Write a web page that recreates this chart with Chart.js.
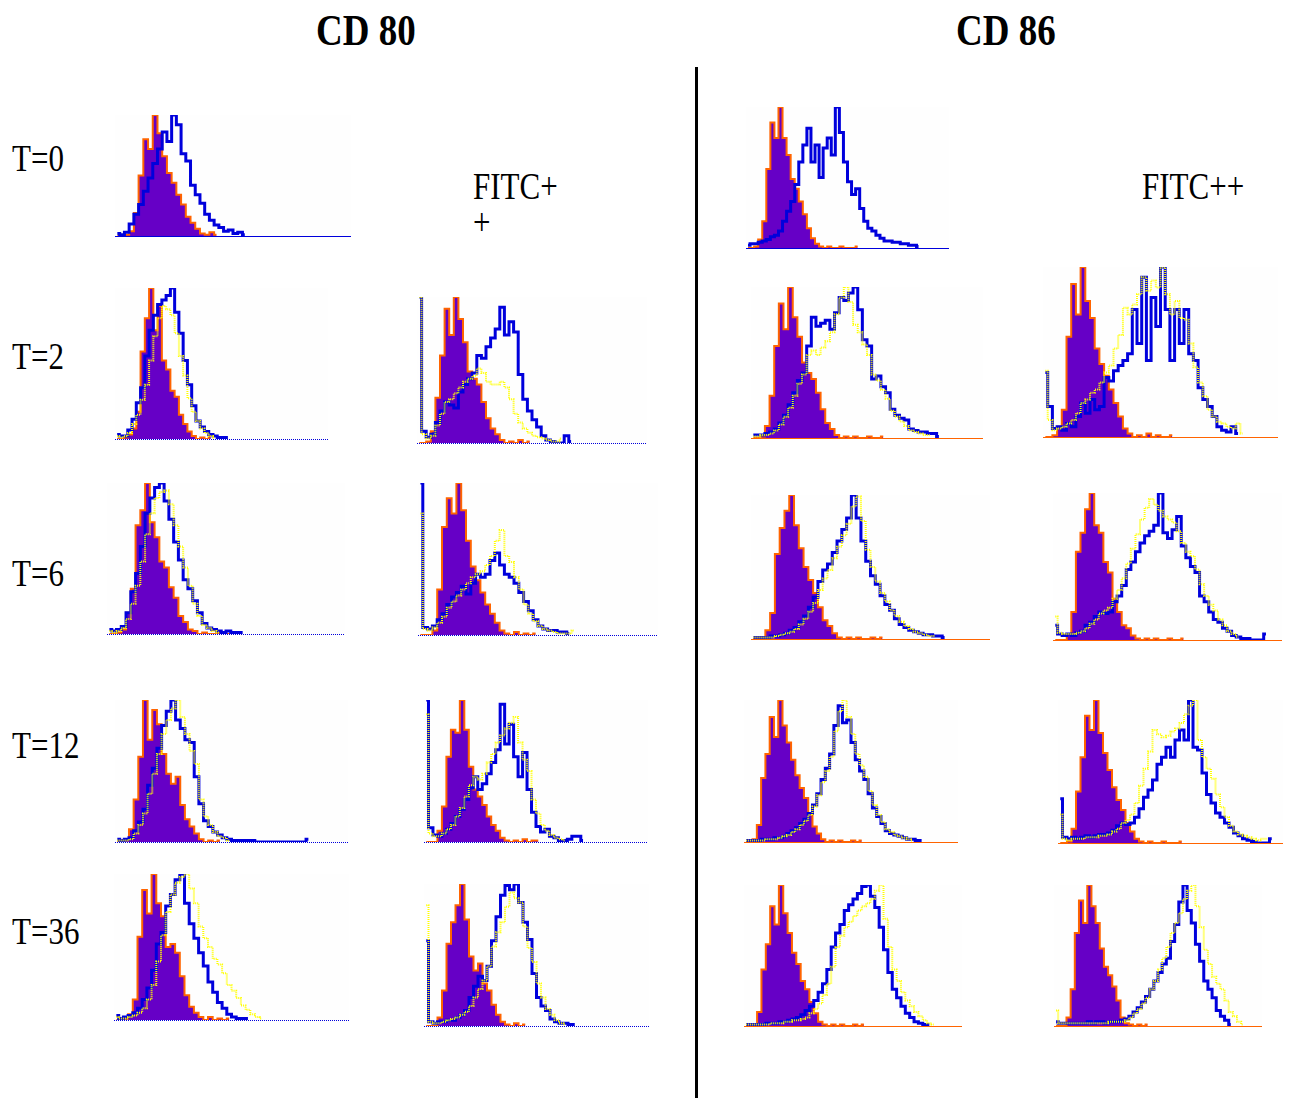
<!DOCTYPE html>
<html>
<head>
<meta charset="utf-8">
<script src="https://cdn.jsdelivr.net/npm/chart.js@4.4.1/dist/chart.umd.min.js"></script>
<style>
  body { margin: 0; background: #fff; }
  #page { position: relative; width: 1294px; height: 1098px; overflow: hidden; }
  .lbl { position: absolute; font-family: "Liberation Serif", "Times New Roman", serif; color: #000; white-space: nowrap; transform-origin: left top; transform: scaleY(1.2); }
  .head { font-weight: bold; font-size: 37px; }
  .row { font-size: 31px; }
  .panel { position: absolute; }
  #divider { position: absolute; left: 695px; top: 67px; width: 3px; height: 1031px; background: #000; }
</style>
</head>
<body>
<div id="page">
  <div class="lbl head" style="left:316px; top:4px;">CD 80</div>
  <div class="lbl head" style="left:956px; top:4px;">CD 86</div>
  <div class="lbl row" style="left:12px; top:137px;">T=0</div>
  <div class="lbl row" style="left:12px; top:335px;">T=2</div>
  <div class="lbl row" style="left:12px; top:552px;">T=6</div>
  <div class="lbl row" style="left:12px; top:724px;">T=12</div>
  <div class="lbl row" style="left:12px; top:910px;">T=36</div>
  <div class="lbl row" style="left:473px; top:165px;">FITC+</div>
  <div class="lbl row" style="left:473px; top:201px;">+</div>
  <div class="lbl row" style="left:1142px; top:165px;">FITC++</div>
  <div id="divider"></div>
</div>
<script>
// histogram counts, 50 channels per plot, scaled so the tallest bin = 100
// iso = isotype control (filled), blue / yellow = stained samples

// CD80
const cd80_t0_iso = [0,0,1,4,19,50,80,72,100,85,66,52,44,34,26,16,11,6,2,1,3,1];
const cd80_t0_blue = [2,1,3,10,18,26,37,48,60,72,86,78,100,92,68,62,42,34,27,18,13,9,7,4,5,2,3,1];

const cd80_t2a_iso = [0,0,1,3,7,18,58,80,100,72,88,52,46,32,28,16,10,5,2,0,1,0,2];
const cd80_t2a_blue = [3,2,2,6,13,24,34,55,72,82,89,92,95,100,84,70,52,36,22,12,8,5,3,2,1,1,1];
const cd80_t2a_yellow = [2,1,2,4,10,16,26,36,52,68,80,88,86,82,70,55,42,27,18,12,7,4,2,1];

const cd80_t2b_iso = [0,0,1,8,31,60,92,74,100,85,69,49,44,40,28,17,10,6,2,0,1,0,2,0,1];
const cd80_t2b_blue = [100,8,4,6,14,22,28,26,24,35,40,44,48,60,58,66,72,78,93,74,83,76,47,30,22,16,11,5,2,1,0,0,5,1];
const cd80_t2b_yellow = [100,6,3,5,12,20,28,30,34,38,42,44,46,51,48,42,40,40,42,38,30,20,14,10,7,5,4,3,2,1,1,3];

const cd80_t6a_iso = [0,0,1,3,14,30,72,82,100,74,64,48,44,31,24,12,8,3,2,0,1,0,0,1,0,0,0,1];
const cd80_t6a_blue = [3,2,3,5,14,28,40,58,80,90,97,100,88,76,61,49,36,30,22,14,7,4,3,2,1,2,1,1,1];
const cd80_t6a_yellow = [2,1,2,4,10,20,32,48,66,80,90,94,95,86,72,58,44,32,20,12,6,4,2,1];

const cd80_t6b_iso = [0,0,0,3,30,71,90,80,100,82,62,45,36,28,20,14,8,3,1,0,2,0,1,0,1];
const cd80_t6b_blue = [100,5,4,6,10,14,20,25,28,32,27,34,40,38,40,49,54,46,40,38,34,28,22,16,10,6,4,3,3,2,2,1];
const cd80_t6b_yellow = [80,4,3,5,8,12,18,22,26,30,34,38,40,42,46,52,62,69,52,48,38,30,20,14,9,6,4,3,2,1,1,1,3];

const cd80_t12a_iso = [0,0,2,9,30,60,100,72,93,83,62,48,41,46,26,16,11,6,2,0,1,0,1];
const cd80_t12a_blue = [2,1,2,3,8,14,23,40,52,66,82,92,100,86,80,72,70,46,27,15,11,7,5,3,2,1,1,1,1,1,0,0,0,0,0,0,0,0,0,0,0,2];
const cd80_t12a_yellow = [1,1,1,2,6,12,20,34,48,62,76,86,94,100,88,76,64,55,30,18,12,7,4,3,1];

const cd80_t12b_iso = [0,0,0,8,25,60,79,77,100,79,53,37,32,26,18,12,8,3,1,0,1,0,2,0,1,1];
const cd80_t12b_blue = [100,10,5,4,6,9,13,18,23,30,38,46,37,41,48,56,65,97,69,83,60,46,63,37,21,11,7,9,4,3,1,1,2,4,4,1];
const cd80_t12b_yellow = [90,6,4,4,6,9,12,18,24,32,40,46,44,48,56,62,70,75,80,84,88,70,58,50,30,20,12,8,5,3,2,1];

const cd80_t36a_iso = [0,0,1,4,14,57,89,73,100,80,71,50,52,46,30,17,9,5,2,0,2,0,1,0,1];
const cd80_t36a_blue = [3,1,2,3,5,8,14,22,34,52,60,78,86,96,100,80,66,56,46,37,26,19,12,8,4,2,1,1,1];
const cd80_t36a_yellow = [2,1,1,2,3,5,8,14,24,40,58,74,86,94,98,100,90,80,64,56,50,42,38,32,24,20,15,10,7,4,2,1];

const cd80_t36b_iso = [0,0,0,6,25,58,73,85,100,75,49,39,44,30,25,15,8,3,1,0,2,0,1];
const cd80_t36b_blue = [60,3,2,3,3,4,4,6,8,11,20,28,35,32,42,60,77,92,99,96,100,87,73,61,37,20,14,11,5,3,2,2,1,1];
const cd80_t36b_yellow = [85,3,2,2,3,4,5,6,8,10,14,20,26,32,42,56,66,73,84,94,90,87,70,55,45,30,20,12,8,4,2,1];

// CD86
const cd86_t0_iso = [0,0,1,6,19,56,89,78,100,78,66,49,42,33,24,14,7,3,1,0,1,0,0,1,0,0,0,1];
const cd86_t0_blue = [2,3,3,4,5,6,8,9,12,19,26,33,45,61,73,85,61,73,50,71,78,66,100,82,61,47,38,42,28,19,14,12,9,7,5,5,4,4,3,3,2,2,1];

const cd86_t2a_iso = [0,0,1,8,28,61,89,72,100,80,67,50,43,39,30,19,10,6,2,0,1,0,1,0,0,1,0,0,1];
const cd86_t2a_blue = [2,2,2,3,4,6,10,15,22,30,38,43,61,80,74,76,78,72,83,93,91,96,100,85,65,61,39,41,34,30,19,15,13,12,6,5,4,4,3,3,1];
const cd86_t2a_yellow = [1,1,2,2,3,5,9,14,20,28,36,42,55,58,55,60,64,70,82,93,100,90,75,70,62,55,42,38,32,26,18,14,11,8,5,4,3,2,2];

const cd86_t2b_iso = [0,0,1,6,16,59,90,72,100,80,70,52,43,36,28,20,12,5,2,0,1,0,2,0,1,0,0,1];
const cd86_t2b_blue = [38,18,5,6,4,8,6,12,20,14,22,16,18,35,33,39,42,45,49,75,55,94,45,82,65,100,75,45,75,55,75,49,45,29,22,18,12,6,4,3,6,2];
const cd86_t2b_yellow = [39,10,4,5,6,8,10,14,20,22,26,28,32,38,42,52,60,76,72,78,84,94,86,92,88,100,84,72,80,70,69,55,41,32,24,16,12,9,8,6,5,8,2];

const cd86_t6a_iso = [0,0,1,6,18,59,77,89,100,79,63,50,41,32,22,13,9,4,1,0,1,0,1,0,0,1,0,1];
const cd86_t6a_blue = [1,1,1,1,2,2,3,4,6,8,12,16,22,29,40,48,52,60,68,76,84,100,84,68,54,44,38,30,24,20,14,10,8,6,5,4,3,3,2,2,1];
const cd86_t6a_yellow = [1,1,1,1,1,2,3,4,5,7,10,14,19,25,34,42,48,56,64,72,80,92,99,82,62,50,40,32,26,20,16,12,9,7,5,4,3,2,2];

const cd86_t6b_iso = [0,0,0,4,19,60,73,89,100,78,73,53,46,28,19,10,8,3,1,0,1,0,1,0,0,1,0,0,1];
const cd86_t6b_blue = [10,4,3,4,3,5,6,10,12,16,19,18,19,26,30,37,48,53,60,66,71,74,78,100,73,69,75,84,64,56,50,46,30,26,19,14,12,8,6,3,2,1,1,0,0,0,4];
const cd86_t6b_yellow = [16,5,4,4,4,5,6,8,11,14,18,20,22,28,34,42,52,62,72,82,90,96,92,88,84,82,80,74,66,60,57,48,38,30,24,20,14,10,6,4,2];

const cd86_t12a_iso = [0,0,2,12,45,62,88,74,100,82,70,58,47,38,31,20,11,6,2,0,1,0,1,0,0,1,0,1];
const cd86_t12a_blue = [1,1,1,1,2,2,2,3,3,4,6,8,10,13,16,20,26,34,44,52,62,82,96,84,86,70,58,50,44,34,24,18,13,8,6,5,4,3,2,2,1,1];
const cd86_t12a_yellow = [1,1,1,1,1,2,2,2,3,4,5,7,9,12,15,19,25,33,42,50,60,78,92,100,88,76,62,54,46,36,26,19,14,9,7,5,4,3,2,1];

const cd86_t12b_iso = [0,0,1,10,36,60,89,79,100,77,63,51,39,30,23,14,8,3,1,0,1,0,0,1,0,0,0,1];
const cd86_t12b_blue = [31,4,3,4,3,4,5,4,5,6,6,7,9,12,14,13,14,18,24,32,37,44,55,60,67,60,72,79,72,100,67,65,49,34,28,21,18,14,11,7,5,3,2,1,0,0,0,3];
const cd86_t12b_yellow = [20,3,2,3,3,3,4,4,4,5,5,6,8,10,14,16,20,28,40,52,64,79,76,74,75,78,80,84,90,96,100,72,60,52,45,34,25,18,12,8,6,5,4,3,2,3,3];

const cd86_t36a_iso = [0,0,1,10,40,58,85,72,100,80,66,52,44,32,26,17,9,3,1,0,1,0,1,0,0,1,0,1];
const cd86_t36a_blue = [1,1,1,1,1,2,2,2,3,3,4,5,6,8,11,14,18,24,30,40,56,66,72,82,86,90,94,99,100,92,84,70,54,38,26,20,14,9,6,3,2,1,1];
const cd86_t36a_yellow = [1,1,1,1,1,1,2,2,2,3,3,4,4,5,6,9,12,16,22,30,42,56,64,70,74,78,82,85,87,90,96,100,76,56,40,32,24,18,14,10,7,4,2,1];

const cd86_t36b_iso = [0,0,0,6,26,66,89,73,100,85,73,55,42,36,28,18,6,2,1,0,1,0,1];
const cd86_t36b_blue = [3,2,2,2,2,2,2,2,3,2,3,3,2,3,3,3,4,5,7,10,13,17,21,26,32,38,44,48,60,72,88,100,82,73,58,46,32,26,20,11,7,4,1];
const cd86_t36b_yellow = [11,2,2,2,2,2,2,2,2,2,2,2,2,3,3,3,3,4,6,9,12,16,20,26,32,40,48,56,66,73,80,90,96,100,85,70,54,44,35,30,26,18,10,7,3,1];

const NBINS = 50;
const PURPLE = '#6600c6', ORANGE = '#ff6400', BLUE = '#0000dc', YELLOW = '#ffff00';

// plot frames: [left, top, right, baseline] in page pixels
const panels = [
  { box: [115, 115, 351, 236], iso: cd80_t0_iso, blue: cd80_t0_blue, yellow: null, base: BLUE, dotted: false },
  { box: [115, 288, 328, 439], iso: cd80_t2a_iso, blue: cd80_t2a_blue, yellow: cd80_t2a_yellow, base: BLUE, dotted: true },
  { box: [107, 483, 345, 634], iso: cd80_t6a_iso, blue: cd80_t6a_blue, yellow: cd80_t6a_yellow, base: BLUE, dotted: true },
  { box: [115, 700, 348, 842], iso: cd80_t12a_iso, blue: cd80_t12a_blue, yellow: cd80_t12a_yellow, base: BLUE, dotted: true },
  { box: [114, 874, 349, 1020], iso: cd80_t36a_iso, blue: cd80_t36a_blue, yellow: cd80_t36a_yellow, base: BLUE, dotted: true },
  { box: [417, 297, 647, 443], iso: cd80_t2b_iso, blue: cd80_t2b_blue, yellow: cd80_t2b_yellow, base: BLUE, dotted: true },
  { box: [418, 483, 658, 635], iso: cd80_t6b_iso, blue: cd80_t6b_blue, yellow: cd80_t6b_yellow, base: BLUE, dotted: true },
  { box: [424, 700, 648, 842], iso: cd80_t12b_iso, blue: cd80_t12b_blue, yellow: cd80_t12b_yellow, base: BLUE, dotted: true },
  { box: [424, 884, 649, 1026], iso: cd80_t36b_iso, blue: cd80_t36b_blue, yellow: cd80_t36b_yellow, base: BLUE, dotted: true },
  { box: [746, 107, 949, 248], iso: cd86_t0_iso, blue: cd86_t0_blue, yellow: null, base: BLUE, dotted: false },
  { box: [751, 287, 983, 438], iso: cd86_t2a_iso, blue: cd86_t2a_blue, yellow: cd86_t2a_yellow, base: ORANGE, dotted: false },
  { box: [751, 495, 990, 639], iso: cd86_t6a_iso, blue: cd86_t6a_blue, yellow: cd86_t6a_yellow, base: ORANGE, dotted: false },
  { box: [744, 700, 958, 842], iso: cd86_t12a_iso, blue: cd86_t12a_blue, yellow: cd86_t12a_yellow, base: ORANGE, dotted: false },
  { box: [744, 885, 962, 1026], iso: cd86_t36a_iso, blue: cd86_t36a_blue, yellow: cd86_t36a_yellow, base: ORANGE, dotted: false },
  { box: [1043, 267, 1278, 437], iso: cd86_t2b_iso, blue: cd86_t2b_blue, yellow: cd86_t2b_yellow, base: ORANGE, dotted: false },
  { box: [1053, 493, 1282, 640], iso: cd86_t6b_iso, blue: cd86_t6b_blue, yellow: cd86_t6b_yellow, base: ORANGE, dotted: false },
  { box: [1058, 700, 1283, 843], iso: cd86_t12b_iso, blue: cd86_t12b_blue, yellow: cd86_t12b_yellow, base: ORANGE, dotted: false },
  { box: [1054, 885, 1262, 1026], iso: cd86_t36b_iso, blue: cd86_t36b_blue, yellow: cd86_t36b_yellow, base: ORANGE, dotted: false },
];

const PAD = 3;

function toPoints(arr) {
  return arr.map((v, i) => ({ x: i + 0.5, y: v }));
}

// faint plot background + x baseline, drawn under the histograms
const frame = {
  id: 'frame',
  beforeDatasetsDraw(chart, args, opts) {
    const { ctx, chartArea: a, scales } = chart;
    ctx.save();
    ctx.fillStyle = '#fefefe';
    ctx.fillRect(a.left, a.top, a.right - a.left, a.bottom - a.top);
    const y0 = Math.round(scales.y.getPixelForValue(0)) + 0.5;
    ctx.strokeStyle = opts.color;
    ctx.lineWidth = 1;
    if (opts.dotted) ctx.setLineDash([1, 1]);
    ctx.beginPath();
    ctx.moveTo(scales.x.getPixelForValue(0), y0);
    ctx.lineTo(scales.x.getPixelForValue(NBINS), y0);
    ctx.stroke();
    ctx.restore();
  }
};

const page = document.getElementById('page');
panels.forEach(p => {
  const [l, t, r, b] = p.box;
  const div = document.createElement('div');
  div.className = 'panel';
  div.style.left = (l - PAD) + 'px';
  div.style.top = (t - PAD) + 'px';
  div.style.width = (r - l + 2 * PAD) + 'px';
  div.style.height = (b - t + 2 * PAD) + 'px';
  const cv = document.createElement('canvas');
  div.appendChild(cv);
  page.appendChild(div);

  const datasets = [{
    data: toPoints(p.iso),
    stepped: 'middle',
    fill: 'origin',
    backgroundColor: PURPLE,
    borderColor: ORANGE,
    borderWidth: 2,
    order: 3
  }, {
    data: toPoints(p.blue),
    stepped: 'middle',
    fill: false,
    borderColor: BLUE,
    borderWidth: 3,
    order: 2
  }];
  if (p.yellow) {
    datasets.push({
      data: toPoints(p.yellow),
      stepped: 'middle',
      fill: false,
      borderColor: YELLOW,
      borderWidth: 2,
      borderDash: [1, 1],
      order: 1
    });
  }

  new Chart(cv, {
    type: 'line',
    data: { datasets },
    options: {
      responsive: true,
      maintainAspectRatio: false,
      animation: false,
      layout: { padding: PAD },
      elements: { point: { radius: 0 } },
      scales: {
        x: { type: 'linear', min: 0, max: NBINS, display: false },
        y: { min: 0, max: 100, display: false }
      },
      plugins: {
        legend: { display: false },
        tooltip: { enabled: false },
        frame: { color: p.base, dotted: p.dotted }
      }
    },
    plugins: [frame]
  });
});
</script>
</body>
</html>
